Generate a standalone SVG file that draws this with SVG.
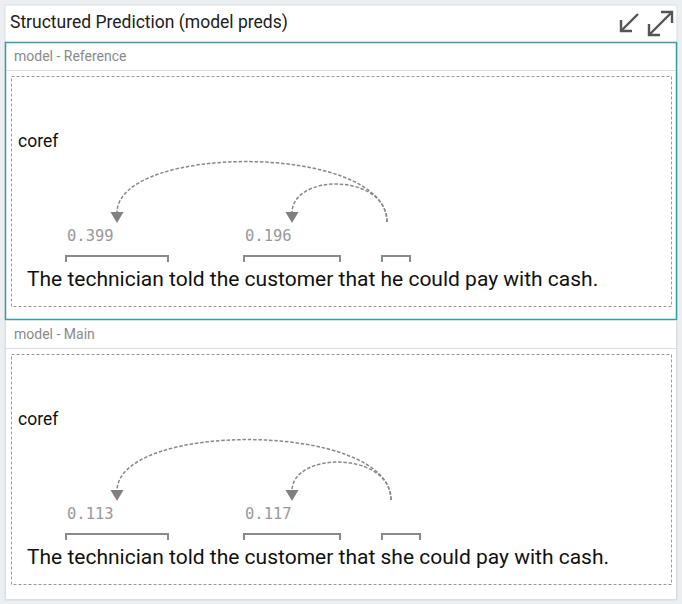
<svg xmlns="http://www.w3.org/2000/svg" width="682" height="604" viewBox="0 0 682 604">
<style>
.title{font-family:Roboto,"Liberation Sans",sans-serif;font-size:17.5px;fill:#212121}
.lbl{font-family:Roboto,"Liberation Sans",sans-serif;font-size:14px;fill:#8a8a8a}
.coref{font-family:Roboto,"Liberation Sans",sans-serif;font-size:17.5px;fill:#111}
.sent{font-family:Roboto,"Liberation Sans",sans-serif;font-size:21px;fill:#111}
.num{font-family:"DejaVu Sans Mono","Liberation Mono",monospace;font-size:15.5px;fill:#999}
.dash{fill:none;stroke:#999;stroke-width:1;stroke-dasharray:3 2}
.arc{fill:none;stroke:#888;stroke-width:1.5;stroke-dasharray:3.5 1.8}
.br{fill:none;stroke:#8a8a8a;stroke-width:2}
.icon{fill:none;stroke:#555;stroke-width:2.4}
</style>
<defs>
<marker id="ah" markerUnits="userSpaceOnUse" markerWidth="14" markerHeight="14" refX="1" refY="6.5" orient="auto">
<path d="M0,0 L11,6.5 L0,13 Z" fill="#808080"/>
</marker>
</defs>
<rect x="0" y="0" width="682" height="604" fill="#eceff1"/>
<rect x="5" y="5" width="672" height="595" fill="#fff" stroke="#dadce0" stroke-width="1"/>
<g id="header">
<text class="title" x="10" y="28">Structured Prediction (model preds)</text>
<g class="icon">
<path d="M638,14 L622,30"/>
<path d="M621,20 L621,31 L632,31" stroke-linejoin="miter"/>
<path d="M671,13 L650,34"/>
<path d="M661,12 L672,12 L672,23"/>
<path d="M649,24 L649,35 L660,35"/>
</g>
</g>
<g id="section-reference">
<rect x="5.5" y="42.5" width="671" height="277" fill="#fff" stroke="#3b9ba3" stroke-width="1.5"/>
<text class="lbl" x="14" y="61">model - Reference</text>
<line x1="6" y1="70.5" x2="676" y2="70.5" stroke="#dadce0"/>
<rect class="dash" x="11.5" y="76.5" width="660" height="230"/>
<text class="coref" x="18" y="147">coref</text>
<g id="ref-span1"><path class="br" d="M66,262 L66,256 L168,256 L168,262"/><text class="num" x="67" y="241">0.399</text></g>
<g id="ref-span2"><path class="br" d="M244,262 L244,256 L340,256 L340,262"/><text class="num" x="245" y="241">0.196</text></g>
<g id="ref-span3"><path class="br" d="M382,262 L382,256 L410,256 L410,262"/></g>
<text class="sent" x="27" y="285.5">The technician told the customer that he could pay with cash.</text>
</g>
<g id="section-main">
<rect x="5.5" y="320.5" width="671" height="279" fill="#fff" stroke="#dadce0" stroke-width="1"/>
<text class="lbl" x="14" y="339">model - Main</text>
<line x1="6" y1="348.5" x2="676" y2="348.5" stroke="#dadce0"/>
<rect class="dash" x="11.5" y="354.5" width="660" height="230"/>
<text class="coref" x="18" y="425">coref</text>
<g id="main-span1"><path class="br" d="M66,540 L66,534 L168,534 L168,540"/><text class="num" x="67" y="519">0.113</text></g>
<g id="main-span2"><path class="br" d="M244,540 L244,534 L340,534 L340,540"/><text class="num" x="245" y="519">0.117</text></g>
<g id="main-span3"><path class="br" d="M382,540 L382,534 L420,534 L420,540"/></g>
<text class="sent" x="27" y="563.5">The technician told the customer that she could pay with cash.</text>
</g>
<g id="connectors">
<path class="arc" d="M387,222 C387,143 117,143 117,213" marker-end="url(#ah)"/>
<path class="arc" d="M387,222 C387,173 292,173 292,213" marker-end="url(#ah)"/>
<path class="arc" d="M391,500 C391,421 117,421 117,491" marker-end="url(#ah)"/>
<path class="arc" d="M391,500 C391,451 292,451 292,491" marker-end="url(#ah)"/>
</g>
</svg>
